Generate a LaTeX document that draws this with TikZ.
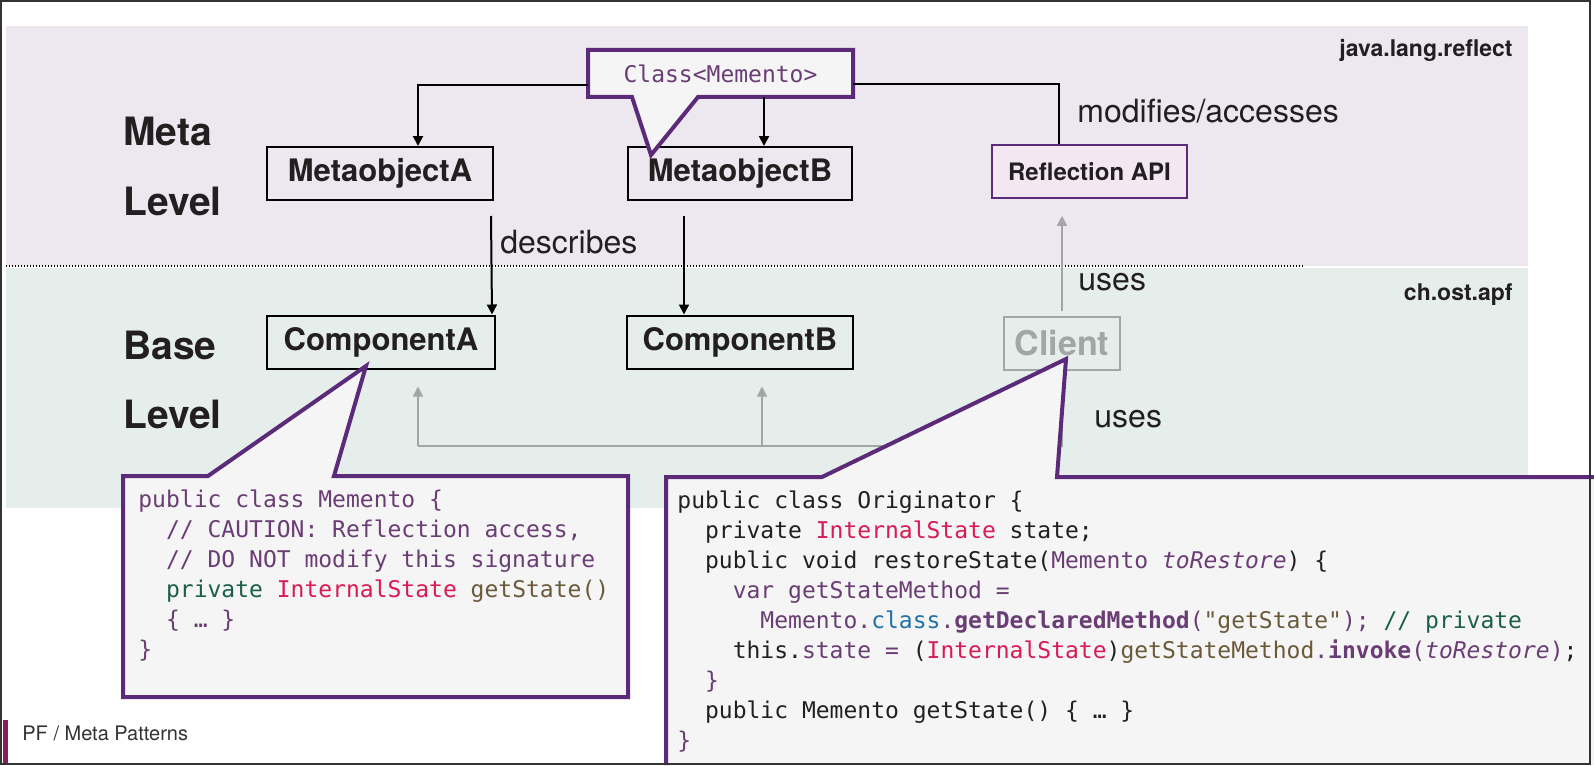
\documentclass[tikz,border=0pt]{standalone}
\usepackage{fontspec}
\setmainfont{TeX Gyre Heros}
\newfontfamily\codefont{DejaVu Sans Mono}
\usetikzlibrary{arrows.meta,positioning}

\definecolor{metabg}{HTML}{EDE7EF}
\definecolor{basebg}{HTML}{E6EEEC}
\definecolor{inkdark}{HTML}{231F20}
\definecolor{calloutline}{HTML}{5B2A78}
\definecolor{calloutfill}{HTML}{F5F5F5}
\definecolor{apifill}{HTML}{F3E7F2}
\definecolor{faded}{HTML}{A2A6A6}
\definecolor{cpurple}{HTML}{6A3D74}
\definecolor{cgreen}{HTML}{1B5E4B}
\definecolor{cred}{HTML}{D81B55}
\definecolor{colive}{HTML}{6B5A3A}
\definecolor{cblue}{HTML}{1F72A8}
\definecolor{footmag}{HTML}{8E1B5E}

\tikzstyle{classbox} = [draw=black, line width=1pt, inner sep=0pt, minimum height=26.5pt, text=inkdark, font=\bfseries\fontsize{15.5}{18}\selectfont]
\tikzstyle{levellabel} = [anchor=base west, inner sep=0pt, text=inkdark, font=\bfseries\fontsize{19.5}{22}\selectfont]
\tikzstyle{pkglabel} = [anchor=base east, inner sep=0pt, text=inkdark, font=\bfseries\fontsize{11.5}{14}\selectfont]
\tikzstyle{edgelabel} = [anchor=base west, inner sep=0pt, text=inkdark, font=\fontsize{16}{19}\selectfont]
\tikzstyle{bubble} = [draw=calloutline, fill=calloutfill, line width=2pt, line join=miter]
\tikzstyle{codetext} = [anchor=north west, inner sep=0pt, align=left, font=\codefont\fontsize{11.5}{15}\selectfont]
\tikzstyle{metaarrow} = [draw=black, line width=1pt, -{Triangle[length=5pt,width=5pt]}]
\tikzstyle{uselink} = [draw=faded, line width=0.8pt]

\begin{document}
\begin{tikzpicture}[x=0.5pt, y=-0.5pt]
\useasboundingbox (0,0) rectangle (1594,765);
\fill[metabg] (6,26) rectangle (1528,266);
\fill[basebg] (6,268) rectangle (1528,508);
\draw[line width=0.7pt, dash pattern=on 0.7pt off 0.8pt] (6,266) -- (1304,266);

\node[pkglabel] (pkgmeta) at (1513,57) {java.lang.reflect};
\node[pkglabel] (pkgbase) at (1513,300) {ch.ost.apf};
\node[levellabel] (metaword) at (123,145) {Meta};
\node[levellabel] (metalevel) at (123,215) {Level};
\node[levellabel] (baseword) at (123,359) {Base};
\node[levellabel] (baselevel) at (123,428) {Level};

\node[classbox, minimum width=113pt] (mA) at (380,173.5) {MetaobjectA};
\node[classbox, minimum width=112pt] (mB) at (740,173.5) {MetaobjectB};
\node[classbox, minimum width=114pt] (cA) at (381,342) {ComponentA};
\node[classbox, minimum width=113pt] (cB) at (740,342) {ComponentB};
\node[classbox, minimum width=58pt, draw=faded, text=faded, font=\bfseries\fontsize{17}{20}\selectfont] (cl) at (1062,343.5) {Client};
\node[classbox, minimum width=97.5pt, draw=calloutline, line width=0.8pt, fill=apifill, font=\bfseries\fontsize{12}{14}\selectfont] (api) at (1089.5,171.5) {Reflection API};

\filldraw[bubble] (588,50) -- (853,50) -- (853,97) -- (698,97) -- (651,155) -- (632,97) -- (588,97) -- cycle;
\node[inner sep=0pt, minimum width=132.5pt, minimum height=23.5pt, text=cpurple, font=\codefont\fontsize{11.5}{14}\selectfont] (cls) at (720.5,73.5) {Class<Memento>};

\draw[metaarrow] ([yshift=-5.75pt]cls.west) -| ([xshift=19pt]mA.north);
\draw[metaarrow] ([xshift=21.75pt]cls.south) -- ([xshift=12pt]mB.north);
\draw[line width=1pt] ([yshift=-5.25pt]cls.east) -| ([xshift=-15.25pt]api.north);
\draw[metaarrow] ([xshift=55.5pt,yshift=-7.5pt]mA.south) -- ([xshift=-2pt]cA.north east);
\draw[metaarrow] ([xshift=-28pt,yshift=-7.5pt]mB.south) -- ([xshift=-28pt]cB.north);
\draw[uselink, -{Triangle[length=5pt,width=5pt]}] ([yshift=2.5pt]cl.north) -- ([xshift=-13.75pt,yshift=-8.5pt]api.south);

\coordinate (busA) at (418,446);
\coordinate (busB) at (762,446);
\draw[uselink] (cl.south) |- (busA);
\draw[uselink, -{Triangle[length=5pt,width=5pt]}] (busA) -- ([xshift=18.5pt,yshift=-8.5pt]cA.south);
\draw[uselink, -{Triangle[length=5pt,width=5pt]}] (busB) -- ([xshift=11pt,yshift=-8.5pt]cB.south);

\node[edgelabel] (lbldesc) at (500,253) {describes};
\node[edgelabel] (lblmod) at (1077,122) {modifies/accesses};
\node[edgelabel] (lbluseapi) at (1078,290) {uses};
\node[edgelabel] (lbluseparts) at (1094,427) {uses};

\filldraw[bubble] (123,476) -- (208,476) -- (366,366) -- (334,476) -- (628,476) -- (628,697) -- (123,697) -- cycle;
\node[codetext, text=cpurple] (mementocode) at (138,489) {public class Memento \{\\
~~// CAUTION: Reflection access,\\
~~// DO NOT modify this signature\\
~~\textcolor{cgreen}{private} \textcolor{cred}{InternalState} \textcolor{colive}{getState()}\\
~~\{ … \}\\
\}};

\fill[calloutfill] (666,477) -- (822,477) -- (1066,359) -- (1057,477) -- (1594,477) -- (1594,765) -- (666,765) -- cycle;
\draw[bubble, fill=none] (666,765) -- (666,477) -- (822,477) -- (1066,359) -- (1057,477) -- (1594,477);
\node[codetext, text=inkdark] (origcode) at (677,490) {public class Originator \{\\
~~private \textcolor{cred}{InternalState} state;\\
~~public void restoreState(\textcolor{cpurple}{Memento \textit{toRestore}}) \{\\
~~~~\textcolor{cpurple}{var getStateMethod =}\\
~~~~~~\textcolor{cpurple}{Memento.}\textcolor{cblue}{class}\textcolor{cpurple}{.\textbf{getDeclaredMethod}(}\textcolor{colive}{"getState"}\textcolor{cpurple}{);} \textcolor{cgreen}{// private}\\
~~~~this.\textcolor{cpurple}{state =} (\textcolor{cred}{InternalState})\textcolor{colive}{getStateMethod}\textcolor{cpurple}{.\textbf{invoke}(\textit{toRestore})};\\
~~\textcolor{cpurple}{\}}\\
~~public Memento getState() \{ … \}\\
\textcolor{cpurple}{\}}};

\fill[footmag] (3,720) rectangle (8,765);
\node[anchor=base west, inner sep=0pt, text=black!80, font=\fontsize{10}{12}\selectfont] (footer) at (22,740) {PF / Meta Patterns};
\draw[black!80, line width=1pt] (1,1) rectangle (1590,764);
\end{tikzpicture}
\end{document}
